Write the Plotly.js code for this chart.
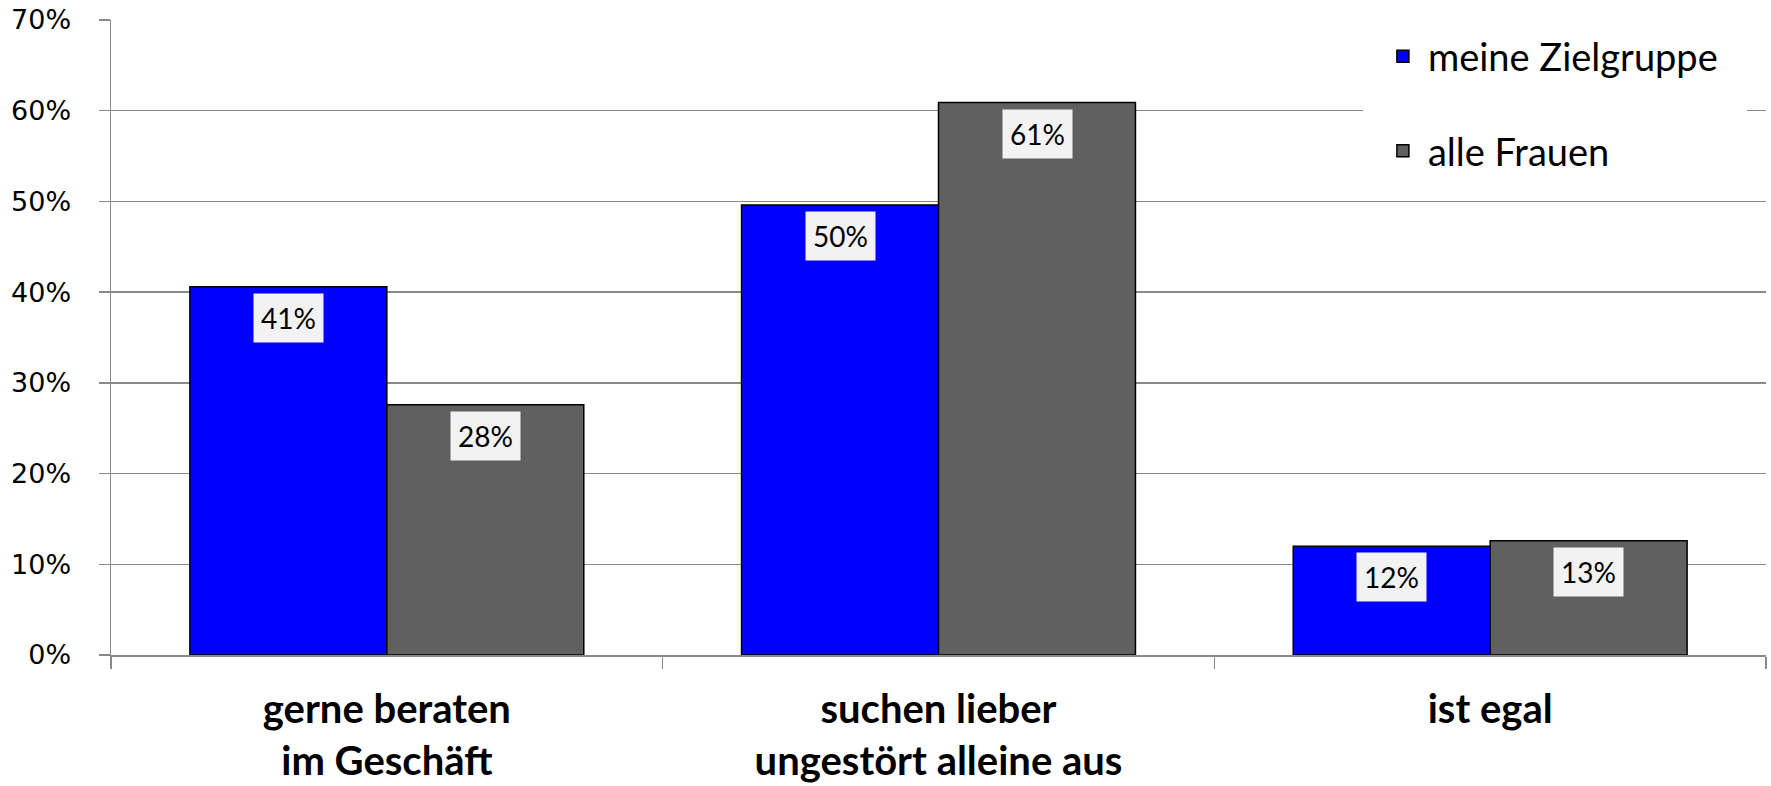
<!DOCTYPE html>
<html><head><meta charset="utf-8">
<script src="https://cdn.plot.ly/plotly-3.0.1.min.js"></script>
<style>html,body{margin:0;padding:0;background:#fff}#chart{width:1771px;height:786px}</style>
</head><body><div id="chart"></div>
<script>
const categories = ["gerne beraten<br>im Geschäft", "suchen lieber<br>ungestört alleine aus", "ist egal"];
const seriesNames = ["meine Zielgruppe", "alle Frauen"];
const zielgruppe = [0.406, 0.496, 0.120];
const alleFrauen = [0.276, 0.609, 0.126];
const yTickVals = [0, 0.1, 0.2, 0.3, 0.4, 0.5, 0.6, 0.7];
const colors = ["#0000ff", "#606060"];

const seriesValues = [zielgruppe, alleFrauen];
const traces = seriesValues.map((vals, i) => ({
  type: 'bar', x: categories, y: vals, name: seriesNames[i],
  legendgroup: 'g' + i,
  marker: {color: colors[i], line: {color: '#000', width: 1.5}},
  hoverinfo: 'none'
}));

const barShift = 98.5;
const annotations = [];
seriesValues.forEach((vals, i) => {
  vals.forEach((v, j) => {
    annotations.push({
      x: categories[j], y: v, xref: 'x', yref: 'y',
      xshift: i === 0 ? -barShift : barShift, yshift: -6,
      yanchor: 'top', showarrow: false,
      text: Math.round(v * 100) + '%',
      font: {family: 'Lato, sans-serif', size: 28, color: '#000'},
      bgcolor: '#f2f2f2', borderpad: 7
    });
  });
});

const layout = {
  width: 1771, height: 786,
  margin: {l: 111, r: 5, t: 20, b: 131},
  paper_bgcolor: '#fff', plot_bgcolor: '#fff',
  barmode: 'group', bargap: 0.286, bargroupgap: 0,
  showlegend: true,
  legend: {
    x: 0.7655, y: 0.992, xanchor: 'left', yanchor: 'top',
    bgcolor: 'rgba(255,255,255,0)', font: {family: 'Lato, sans-serif', size: 38, color: '#000'},
    traceorder: 'grouped', tracegroupgap: 42, itemwidth: 40
  },
  shapes: [{
    type: 'rect', xref: 'paper', yref: 'paper', layer: 'above',
    x0: 0.7565, x1: 0.9885, y0: 0.716, y1: 1.04,
    fillcolor: '#fff', line: {width: 0}
  }],
  xaxis: {
    type: 'category', tickson: 'boundaries', ticks: 'outside', ticklen: 12,
    tickcolor: '#898989', tickwidth: 1.5,
    showline: true, linecolor: '#898989', linewidth: 1.5,
    showgrid: false,
    tickfont: {family: 'Lato, sans-serif', size: 40, color: '#000', weight: 'bold'},
    ticklabelstandoff: 18
  },
  yaxis: {
    range: [0, 0.7], tickvals: yTickVals, tickformat: '.0%',
    ticks: 'outside', ticklen: 11, tickcolor: '#898989', tickwidth: 1.5,
    showline: true, linecolor: '#898989', linewidth: 1.5,
    showgrid: true, gridcolor: '#898989', gridwidth: 1.5,
    zeroline: false,
    tickfont: {family: 'DejaVu Sans, sans-serif', size: 27, color: '#000'},
    ticklabelstandoff: 22
  },
  annotations: annotations
};

Plotly.newPlot('chart', traces, layout, {staticPlot: true, displayModeBar: false});
</script>
</body></html>
